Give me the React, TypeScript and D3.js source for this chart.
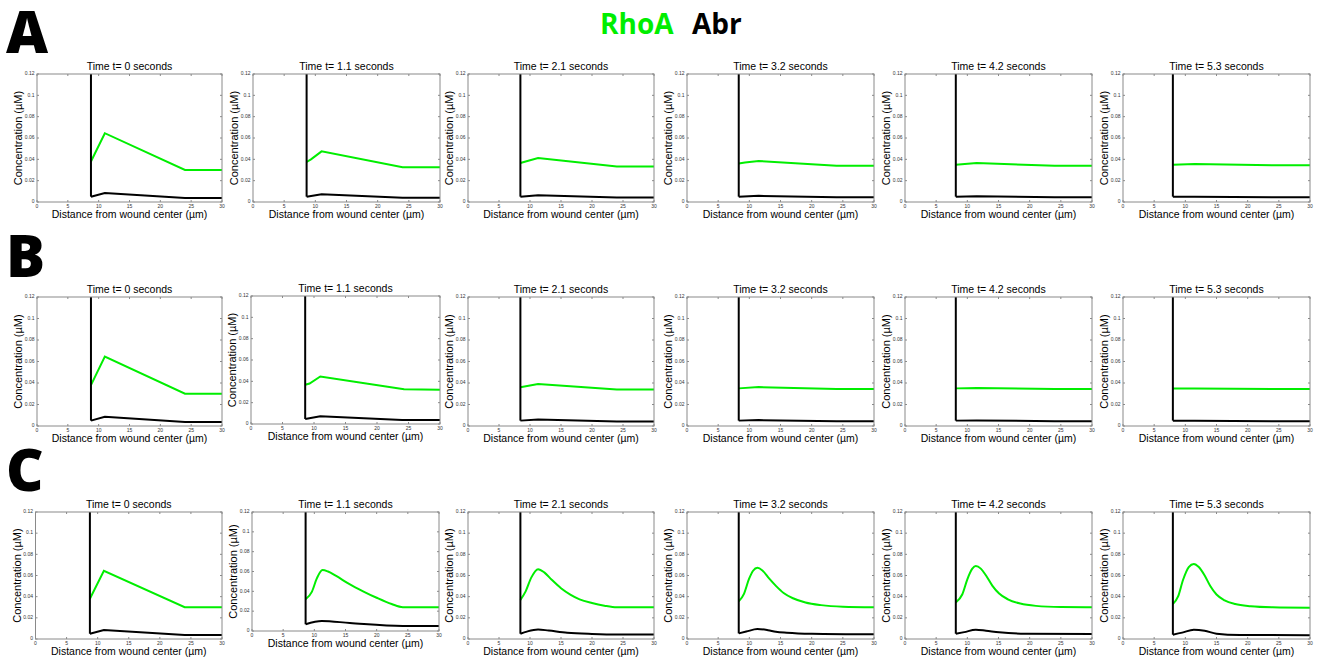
import React from 'react';
import * as d3 from 'd3';

// figure size
const width = 1317;
const height = 661;

// data
const rowLabels = ['A', 'B', 'C'];
const times = ['0', '1.1', '2.1', '3.2', '4.2', '5.3'];
const xTicks = [0, 5, 10, 15, 20, 25, 30];
const yTicks = [0, 0.02, 0.04, 0.06, 0.08, 0.1, 0.12];
const yTickLabels = ['0', '0.02', '0.04', '0.06', '0.08', '0.1', '0.12'];

// RhoA / Abr profiles, [distance µm, concentration µM]; first point sits on the wound edge
const rhoA_A = [
  [[8.75, 0.038], [11, 0.0645], [24, 0.030], [30, 0.030]],
  [[8.6, 0.0375], [9.3, 0.040], [11, 0.0475], [24, 0.0325], [30, 0.0325]],
  [[8.45, 0.0365], [9.3, 0.038], [11.3, 0.0412], [24, 0.0333], [30, 0.0333]],
  [[8.3, 0.036], [9.3, 0.037], [11.5, 0.0385], [24, 0.034], [30, 0.034]],
  [[8.15, 0.035], [11.5, 0.0365], [24, 0.034], [30, 0.034]],
  [[8.0, 0.035], [11.5, 0.0357], [24, 0.0345], [30, 0.0345]],
];
const abr_A = [
  [[8.75, 0.005], [11, 0.0085], [24, 0.0038], [30, 0.0038]],
  [[8.6, 0.005], [11, 0.0072], [24, 0.004], [30, 0.004]],
  [[8.45, 0.005], [11.3, 0.0063], [24, 0.0043], [30, 0.0043]],
  [[8.3, 0.005], [11.5, 0.0058], [24, 0.0044], [30, 0.0044]],
  [[8.15, 0.005], [11.5, 0.0053], [24, 0.0045], [30, 0.0045]],
  [[8.0, 0.005], [11.5, 0.005], [24, 0.0045], [30, 0.0045]],
];
const rhoA_B = [
  [[8.75, 0.038], [11, 0.0645], [24, 0.030], [30, 0.030]],
  [[8.6, 0.0368], [9.3, 0.038], [11, 0.0445], [24.3, 0.0325], [30, 0.032]],
  [[8.45, 0.036], [11.3, 0.039], [24, 0.034], [30, 0.034]],
  [[8.3, 0.035], [11.5, 0.0362], [24, 0.0345], [30, 0.0345]],
  [[8.15, 0.035], [11.5, 0.0353], [24, 0.0345], [30, 0.0345]],
  [[8.0, 0.035], [11.5, 0.035], [24, 0.0345], [30, 0.0345]],
];
const abr_B = [
  [[8.75, 0.005], [11, 0.0085], [24, 0.0038], [30, 0.0038]],
  [[8.6, 0.0047], [11, 0.0072], [24, 0.0038], [30, 0.0038]],
  [[8.45, 0.005], [11.3, 0.006], [24, 0.0043], [30, 0.0043]],
  [[8.3, 0.005], [11.5, 0.0055], [24, 0.0045], [30, 0.0045]],
  [[8.15, 0.005], [11.5, 0.0052], [24, 0.0045], [30, 0.0045]],
  [[8.0, 0.005], [11.5, 0.005], [24, 0.0045], [30, 0.0045]],
];
const rhoA_C = [
  [[8.75, 0.038], [11, 0.0645], [24, 0.030], [30, 0.030]],
  [[8.6, 0.032], [9.6, 0.0395], [10.4, 0.053], [11.3, 0.0615], [12.2, 0.0600], [13.5, 0.0555], [15.5, 0.0478], [17.9, 0.0398], [20, 0.0335], [22.4, 0.0272], [24.2, 0.024], [30, 0.024]],
  [[8.45, 0.037], [9.3, 0.045], [10.2, 0.058], [11.3, 0.066], [12.3, 0.063], [13.5, 0.056], [15, 0.048], [16.5, 0.042], [18, 0.0375], [20, 0.034], [22, 0.0315], [24, 0.030], [30, 0.030]],
  [[8.3, 0.0355], [9.14, 0.0427], [9.95, 0.0567], [10.6, 0.0645], [11.3, 0.0673], [12.1, 0.0648], [13.2, 0.057], [14.3, 0.050], [15.5, 0.0435], [17, 0.0385], [19, 0.0345], [21.5, 0.032], [25, 0.0305], [30, 0.030]],
  [[8.15, 0.0345], [9.2, 0.0423], [10.0, 0.0564], [10.8, 0.0664], [11.36, 0.0689], [12.16, 0.0665], [13.0, 0.060], [14.0, 0.0505], [15.1, 0.043], [16.5, 0.0375], [18.5, 0.0335], [21, 0.0313], [25, 0.0302], [30, 0.030]],
  [[8.0, 0.0331], [8.84, 0.0403], [9.64, 0.056], [10.55, 0.068], [11.36, 0.0709], [12.16, 0.068], [13.1, 0.060], [14.0, 0.050], [15.0, 0.042], [16.3, 0.0365], [18, 0.033], [20.5, 0.031], [24, 0.030], [30, 0.0296]],
];
const abr_C = [
  [[8.75, 0.005], [11, 0.0085], [24, 0.0038], [30, 0.0038]],
  [[8.6, 0.0068], [11.2, 0.0101], [15.7, 0.0081], [24.2, 0.0051], [30, 0.0051]],
  [[8.45, 0.005], [9.5, 0.007], [11.3, 0.009], [13, 0.008], [16, 0.006], [20, 0.0048], [24, 0.0042], [30, 0.0042]],
  [[8.3, 0.0053], [9.5, 0.007], [11.3, 0.0094], [13, 0.0083], [14.25, 0.0069], [16, 0.006], [20, 0.005], [30, 0.0044]],
  [[8.15, 0.005], [9.5, 0.0065], [11.36, 0.0088], [13, 0.0078], [15.1, 0.0063], [19.4, 0.005], [30, 0.0047]],
  [[8.0, 0.0041], [9.5, 0.006], [11.36, 0.0088], [13.1, 0.0078], [15, 0.005], [18.75, 0.0038], [30, 0.0035]],
];

const rhoA = [rhoA_A, rhoA_B, rhoA_C];
const abr = [abr_A, abr_B, abr_C];

// layout of the 3x6 grid of axes
const rowTops = [74, 297, 512];
const rowBottoms = [202, 426, 639];
const colLefts = [37, 253, 468, 687, 905, 1123];
const colRights = [222, 440, 654, 874, 1092, 1310];
const letterBaselines = [53, 277, 491];
// some panels were pasted a little off the grid
const tweaks = {
  '1-1': { left: 251, top: 296, bottom: 424 },
  '2-0': { left: 35.5 },
  '2-1': { left: 252, right: 439, bottom: 631 },
};

const green = '#00ee00';
const frame = '#8a8a8a';
const font = 'Liberation Sans, Arial, sans-serif';

const Panel = ({ row, col }) => {
  const box = {
    left: colLefts[col], right: colRights[col], top: rowTops[row], bottom: rowBottoms[row],
    ...(tweaks[`${row}-${col}`] || {}),
  };
  const x = d3.scaleLinear().domain([0, 30]).range([box.left, box.right]);
  const y = d3.scaleLinear().domain([0, 0.12]).range([box.bottom, box.top]);
  const smooth = row === 2 && col > 0;
  const line = d3.line()
    .x(d => x(d[0]))
    .y(d => y(d[1]))
    .curve(smooth ? d3.curveMonotoneX : d3.curveLinear);

  const g = rhoA[row][col];
  const k = abr[row][col];
  const edge = k[0][0];
  const midY = (box.top + box.bottom) / 2;

  return (
    <g>
      <rect x={box.left} y={box.top} width={box.right - box.left} height={box.bottom - box.top} fill="#fff" />
      <path d={line(g)} fill="none" stroke={green} strokeWidth={2} />
      <path d={line(k)} fill="none" stroke="#000" strokeWidth={2} />
      <line x1={x(edge)} x2={x(edge)} y1={y(0.12)} y2={y(k[0][1])} stroke="#000" strokeWidth={2} />

      {/* frame with inward ticks on all sides */}
      <rect x={box.left} y={box.top} width={box.right - box.left} height={box.bottom - box.top}
        fill="none" stroke={frame} strokeWidth={1} />
      {xTicks.map(t => (
        <g key={'x' + t}>
          <line x1={x(t)} x2={x(t)} y1={box.bottom} y2={box.bottom - 2} stroke={frame} />
          <line x1={x(t)} x2={x(t)} y1={box.top} y2={box.top + 2} stroke={frame} />
          <text x={x(t)} y={box.bottom + 6} fontSize={5} textAnchor="middle" fill="#333" fontFamily={font}>{t}</text>
        </g>
      ))}
      {yTicks.map((t, i) => (
        <g key={'y' + t}>
          <line x1={box.left} x2={box.left + 2} y1={y(t)} y2={y(t)} stroke={frame} />
          <line x1={box.right} x2={box.right - 2} y1={y(t)} y2={y(t)} stroke={frame} />
          <text x={box.left - 2.5} y={y(t) + 1.2} fontSize={5} textAnchor="end" fill="#333" fontFamily={font}>{yTickLabels[i]}</text>
        </g>
      ))}

      <text x={(box.left + box.right) / 2} y={box.top - 4} fontSize={10.5} textAnchor="middle" fontFamily={font}>
        {`Time t= ${times[col]} seconds`}
      </text>
      <text x={(box.left + box.right) / 2} y={box.bottom + 16} fontSize={10.5} textAnchor="middle" fontFamily={font}>
        Distance from wound center (µm)
      </text>
      <text transform={`translate(${box.left - 15},${midY}) rotate(-90)`} fontSize={11} textAnchor="middle" fontFamily={font}>
        Concentration (µM)
      </text>
    </g>
  );
};

const App = () => (
  <div style={{ position: 'absolute', left: 0, top: 0 }}>
    <svg width={width} height={height} style={{ display: 'block', background: '#fff' }}>
      <text x={600} y={34} fontSize={28} fontWeight="bold" fill={green} fontFamily="Open Sans, sans-serif">RhoA</text>
      <text x={692} y={34} fontSize={28} fontWeight="bold" fill="#000" fontFamily="Open Sans, sans-serif">Abr</text>
      {rowLabels.map((r, i) => (
        <text key={r} x={6} y={letterBaselines[i]} fontSize={58} fontWeight={800} fontFamily="Open Sans, sans-serif">{r}</text>
      ))}
      {rowLabels.map((r, row) => times.map((t, col) => (
        <Panel key={`${row}-${col}`} row={row} col={col} />
      )))}
    </svg>
  </div>
);

export default App;
